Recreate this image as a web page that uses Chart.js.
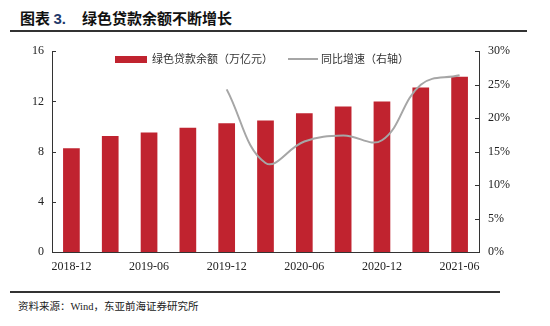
<!DOCTYPE html>
<html>
<head>
<meta charset="utf-8">
<script src="https://cdn.jsdelivr.net/npm/chart.js@4"></script>
<style>
  body { margin: 0; background: #fff; width: 550px; height: 326px; position: relative; overflow: hidden; }
  #title { position: absolute; left: 20px; top: 7px; font: bold 15px "Noto Sans CJK SC", sans-serif; color: #111; white-space: nowrap; }
  #title .num { font-family: "Liberation Sans", sans-serif; color: #1f3a6b; margin-right: 16px; }
  #topline { position: absolute; left: 10px; top: 30px; width: 517px; height: 2px; background: #333; }
  #botline { position: absolute; left: 10px; top: 291px; width: 490px; height: 2px; background: #333; }
  #source { position: absolute; left: 18px; top: 298px; font: 10.5px "Noto Sans CJK SC", serif; color: #222; white-space: nowrap; }
  #source .lat { font-family: "Liberation Serif", serif; }
  #wrap { position: absolute; left: 0; top: 35px; width: 550px; height: 245px; }
  .leg { position: absolute; top: 50px; font: 11px "Noto Sans CJK SC", sans-serif; color: #333; white-space: nowrap; line-height: 16px; }
  .leg i { display: inline-block; vertical-align: middle; margin-right: 5px; }
  #leg1 { left: 115px; }
  #leg1 i { width: 32px; height: 7px; background: #c0232f; margin-top: -2px; }
  #leg2 { left: 288px; }
  #leg2 i { width: 30px; height: 2px; background: #a6a6a6; margin-top: -2px; margin-right: 3px; }
</style>
</head>
<body>
<div id="title">图表 <span class="num">3.</span>绿色贷款余额不断增长</div>
<div id="topline"></div>
<div id="wrap"><canvas id="myChart"></canvas></div>
<div class="leg" id="leg1"><i></i>绿色贷款余额（万亿元）</div>
<div class="leg" id="leg2"><i></i>同比增速（右轴）</div>
<div id="botline"></div>
<div id="source">资料来源：<span class="lat">Wind</span>，东亚前海证券研究所</div>
<script>
// GREEN LOAN BALANCE CHART
const categories = ["2018-12", "2019-03", "2019-06", "2019-09", "2019-12", "2020-03",
                    "2020-06", "2020-09", "2020-12", "2021-03", "2021-06"];
const balance = [8.26, 9.25, 9.52, 9.9, 10.25, 10.48, 11.06, 11.6, 12.0, 13.1, 13.96];
const growth = [null, null, null, null, 24.3, 13.3, 16.5, 17.4, 16.7, 25.0, 26.4];
const leftTicks = [0, 4, 8, 12, 16];
const rightTicks = [0, 5, 10, 15, 20, 25, 30];

const RED = "#c0232f";
const GREY = "#a6a6a6";
const AXIS = "#333";

// small tick marks pointing into the plot
const innerTicks = {
    id: "innerTicks",
    afterDraw(chart) {
        const ctx = chart.ctx;
        const y = chart.scales.y, y1 = chart.scales.y1;
        ctx.save();
        ctx.strokeStyle = AXIS;
        ctx.lineWidth = 1;
        ctx.beginPath();
        leftTicks.forEach(v => {
            const p = Math.round(y.getPixelForValue(v)) + 0.5;
            ctx.moveTo(y.right, p); ctx.lineTo(y.right + 4, p);
        });
        rightTicks.forEach(v => {
            const p = Math.round(y1.getPixelForValue(v)) + 0.5;
            ctx.moveTo(y1.left, p); ctx.lineTo(y1.left - 4, p);
        });
        ctx.stroke();
        ctx.restore();
    }
};

const tickFont = { family: "'Liberation Serif', serif", size: 12 };

function renderChart() {
    const ctx = document.getElementById("myChart").getContext("2d");
    new Chart(ctx, {
        data: {
            labels: categories,
            datasets: [{
                type: "bar",
                label: "绿色贷款余额（万亿元）",
                data: balance,
                backgroundColor: RED,
                borderWidth: 0,
                barPercentage: 0.43,
                categoryPercentage: 1,
                yAxisID: "y",
                order: 2
            }, {
                type: "line",
                label: "同比增速（右轴）",
                data: growth,
                borderColor: GREY,
                backgroundColor: GREY,
                borderWidth: 2,
                pointRadius: 0,
                tension: 0.4,
                yAxisID: "y1",
                order: 1
            }]
        },
        options: {
            responsive: true,
            maintainAspectRatio: false,
            animation: false,
            layout: { padding: { top: 13, left: 0, right: 0, bottom: 0 } },
            plugins: {
                tooltip: { enabled: false },
                legend: { display: false }
            },
            scales: {
                x: {
                    grid: { display: false, drawTicks: false },
                    border: { color: AXIS, width: 1 },
                    ticks: {
                        autoSkip: false,
                        maxRotation: 0,
                        padding: 8,
                        color: "#222",
                        font: tickFont,
                        callback: (v, i) => (i % 2 === 0 ? categories[i] : "")
                    },
                    afterFit: s => { s.height = 28; }
                },
                y: {
                    position: "left",
                    min: 0, max: 16,
                    grid: { display: false, drawTicks: false },
                    border: { color: AXIS, width: 1 },
                    afterBuildTicks: s => { s.ticks = leftTicks.map(v => ({ value: v })); },
                    ticks: { padding: 8, color: "#222", font: tickFont },
                    afterFit: s => { s.width = 52; }
                },
                y1: {
                    position: "right",
                    min: 0, max: 30,
                    grid: { display: false, drawTicks: false },
                    border: { color: AXIS, width: 1 },
                    afterBuildTicks: s => { s.ticks = rightTicks.map(v => ({ value: v })); },
                    ticks: { padding: 9, color: "#222", font: tickFont, callback: v => v + "%" },
                    afterFit: s => { s.width = 71; }
                }
            }
        },
        plugins: [innerTicks]
    });
}

renderChart();
</script>
</body>
</html>
